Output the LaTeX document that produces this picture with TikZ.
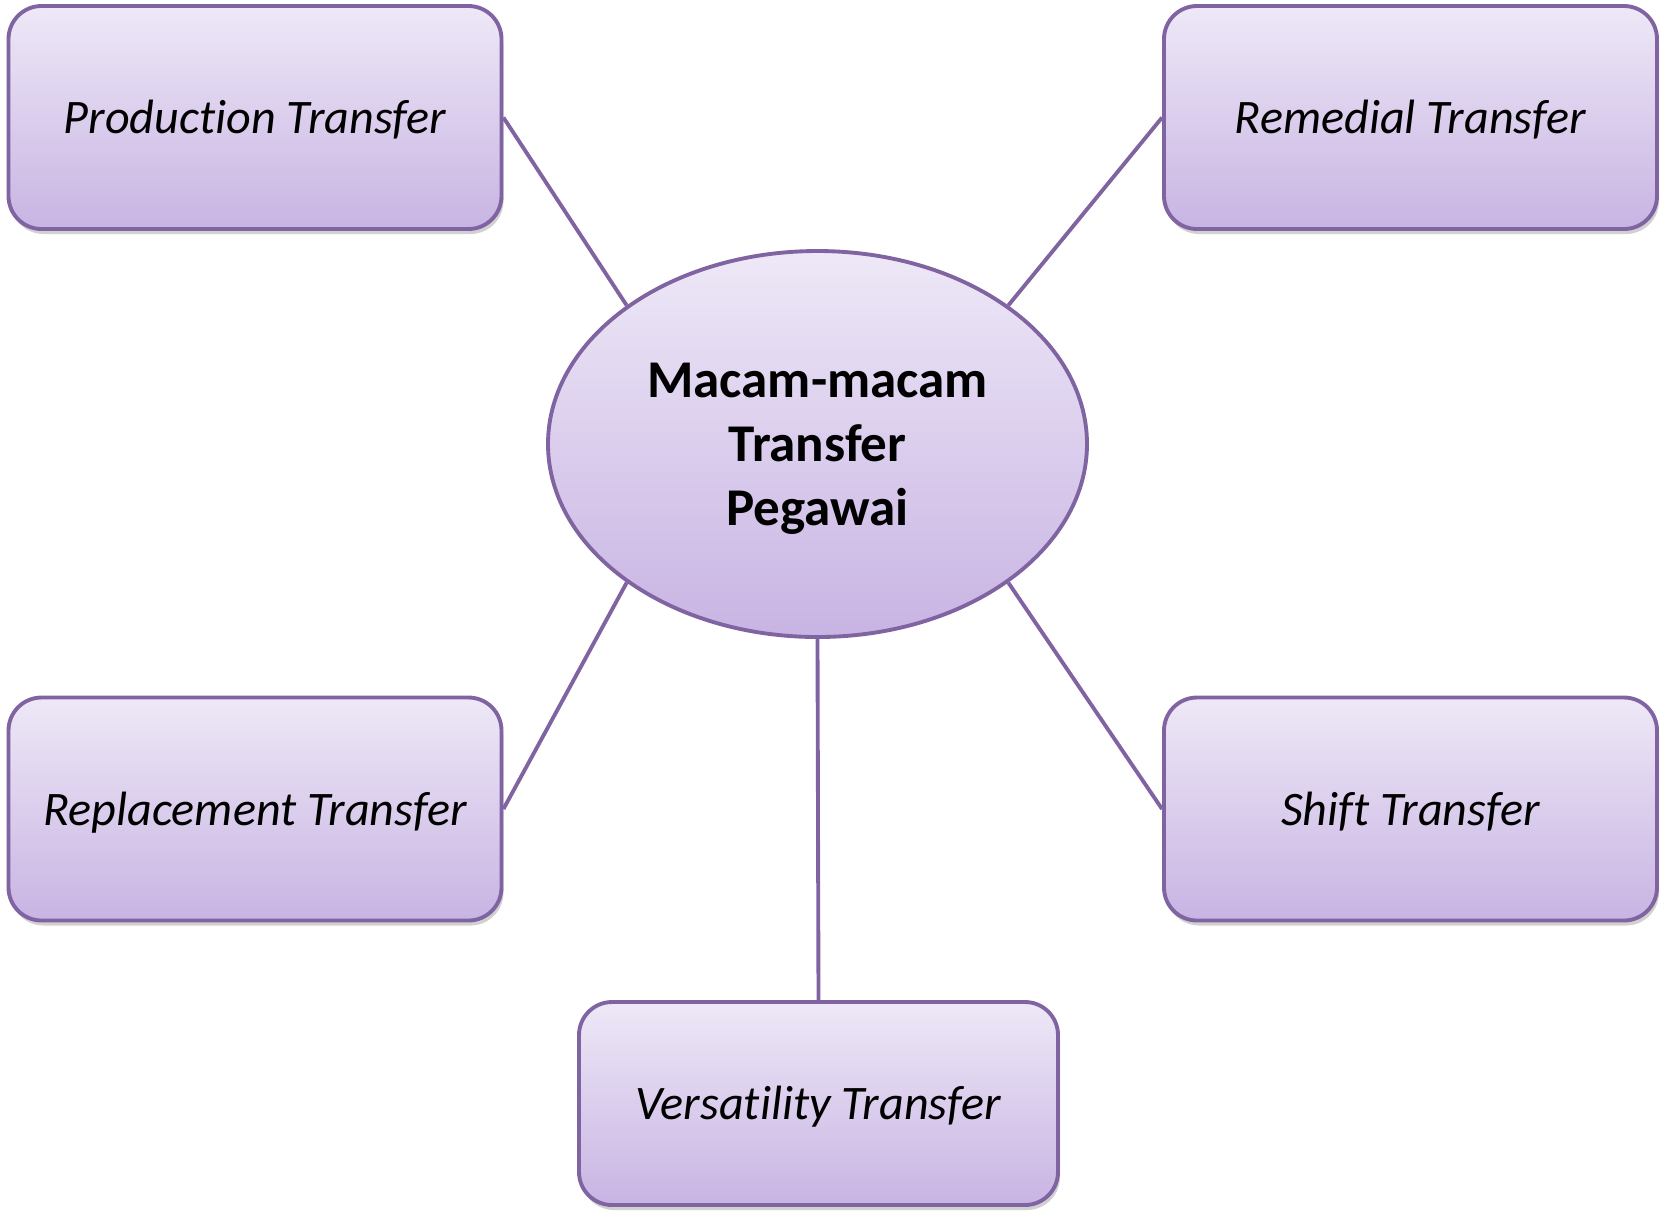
\documentclass[tikz,border=0pt]{standalone}
\usepackage{fontspec}
\setmainfont[Ligatures=NoCommon]{Carlito}
\usetikzlibrary{shapes,shadows}
\definecolor{lilaTop}{HTML}{EEE8F7}
\definecolor{lilaBot}{HTML}{C8B4E3}
\definecolor{lilaLine}{HTML}{8064A2}
\tikzset{
  typebox/.style={draw=lilaLine,line width=1.1pt,rounded corners=0.33cm,
    top color=lilaTop,bottom color=lilaBot,minimum width=4.93cm,minimum height=2.23cm,
    inner sep=0pt,text height=9.5pt,text depth=0.3pt,font=\fontsize{13.7}{16}\selectfont\itshape,
    drop shadow={shadow xshift=0.02cm,shadow yshift=-0.05cm,opacity=0.3,fill=black!60}},
  hub/.style={ellipse,draw=lilaLine,line width=1.1pt,top color=lilaTop,bottom color=lilaBot,
    minimum width=5.39cm,minimum height=3.86cm,inner sep=0pt,align=center,
    font=\fontsize{15.1}{18.2}\selectfont\bfseries},
  link/.style={draw=lilaLine,line width=1.1pt}
}
\begin{document}
\begin{tikzpicture}
\useasboundingbox(0,0)rectangle(16.65,-12.11);
%center
\node[hub](ell)at(8.175,-4.44){\rule{0pt}{12.7pt}Macam-macam\\Transfer\\Pegawai};
%boxes
\node[typebox](prod)at(2.55,-1.175){Production Transfer};
\node[typebox](rem)at(14.105,-1.175){Remedial Transfer};
\node[typebox](repl)at(2.55,-8.09){Replacement Transfer};
\node[typebox](shift)at(14.105,-8.09){Shift Transfer};
\node[typebox,minimum width=4.79cm,minimum height=2.03cm](vers)at(8.185,-11.035){Versatility Transfer};
%links
\draw[link](prod.east)--(ell.144);
\draw[link](rem.west)--(ell.36);
\draw[link](repl.east)--(ell.216);
\draw[link](shift.west)--(ell.-36);
\draw[link](ell.south)--(vers.north);
\end{tikzpicture}
\end{document}
